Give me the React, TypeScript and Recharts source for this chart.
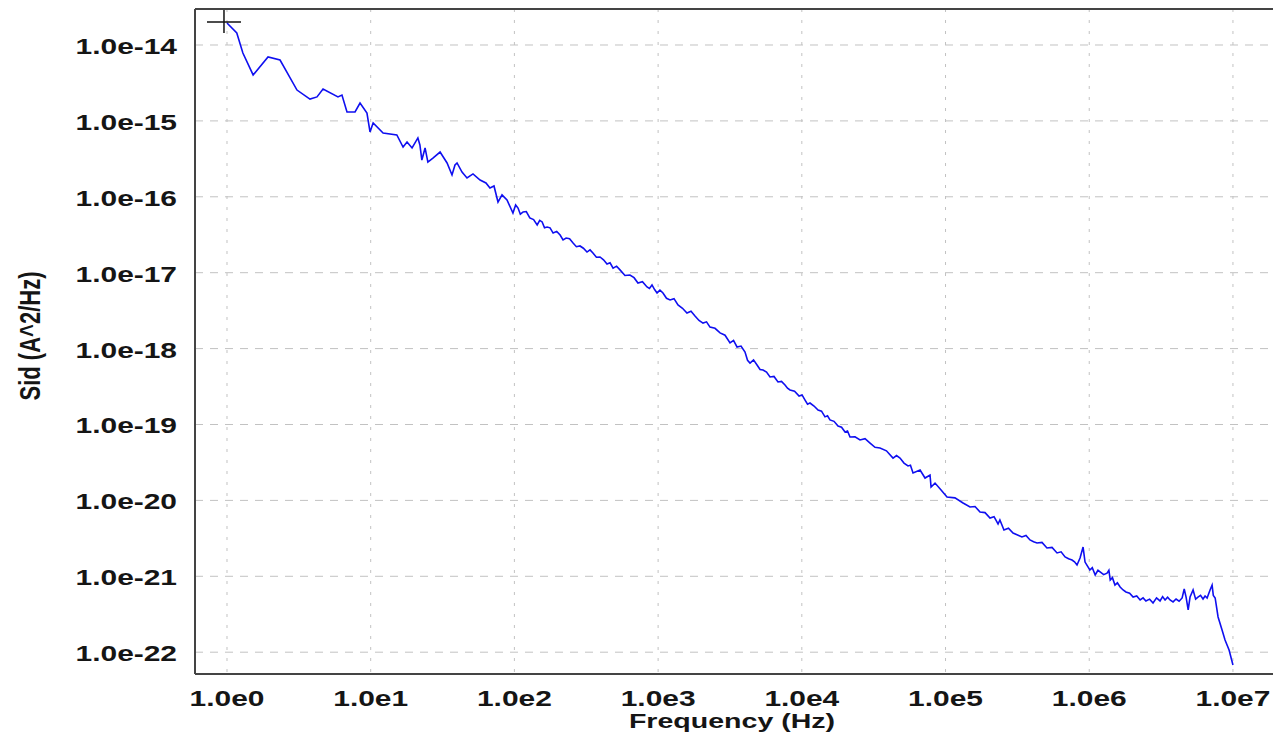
import React from "react"
import { LineChart, Line, XAxis, YAxis, CartesianGrid, ReferenceLine, ReferenceDot } from "recharts"

// noise spectrum (Hz, A^2/Hz)
const FREQ = [
	1, 1.17, 1.29, 1.52, 1.93, 2.34, 3.07, 3.78, 4.23, 4.66,
	5.92, 6.31, 6.84, 7.78, 8.43, 9.42, 9.89, 10.4, 12.2, 15.2,
	16.8, 17.9, 19.4, 21.3, 22.0, 22.7, 23.9, 25.0, 27.1, 30.4,
	34.0, 36.8, 38.6, 39.9, 43.2, 46.8, 51.5, 57.7, 63.4, 67.6,
	72.1, 76.9, 82.0, 88.8, 97.7, 102, 106, 110, 115, 121,
	128, 136, 144, 150, 156, 162, 169, 177, 186, 197,
	208, 218, 229, 242, 256, 270, 286, 302, 320, 336,
	352, 372, 394, 417, 441, 463, 486, 514, 543, 588,
	637, 680, 724, 778, 837, 870, 907, 945, 983, 1030,
	1081, 1144, 1211, 1290, 1375, 1478, 1588, 1694, 1806, 1926,
	2053, 2172, 2297, 2489, 2697, 2922, 3165, 3348, 3541, 3775,
	4025, 4190, 4361, 4613, 4879, 5120, 5373, 5681, 6007, 6403,
	6826, 7222, 7640, 7952, 8277, 8900, 9570, 10040, 10530, 10960,
	11400, 12160, 12970, 13710, 14500, 15090, 15700, 16750, 17860, 18900,
	19990, 20800, 21640, 23450, 25410, 27540, 29840, 32300, 35000, 38800,
	43120, 45600, 48230, 51400, 54810, 57000, 59400, 66500, 72000, 78000,
	79300, 84500, 93100, 102400, 116300, 132400, 148000, 160400, 173800, 188300,
	204000, 217500, 232000, 239000, 255000, 274000, 295000, 317000, 340000, 363000,
	387000, 410000, 433000, 469000, 508000, 551000, 597000, 637000, 679000, 718000,
	759000, 790000, 822000, 863000, 906000, 935000, 1.01e6, 1.05e6, 1.1e6, 1.15e6,
	1.19e6, 1.26e6, 1.33e6, 1.37e6, 1.4e6, 1.45e6, 1.51e6, 1.57e6, 1.64e6, 1.72e6,
	1.8e6, 1.91e6, 2.02e6, 2.14e6, 2.26e6, 2.37e6, 2.48e6, 2.63e6, 2.78e6, 2.94e6,
	3.11e6, 3.24e6, 3.37e6, 3.51e6, 3.65e6, 3.83e6, 4.02e6, 4.22e6, 4.43e6, 4.58e6,
	4.72e6, 4.88e6, 5.03e6, 5.28e6, 5.5e6, 5.71e6, 5.95e6, 6.19e6, 6.4e6, 6.61e6,
	6.93e6, 7.16e6, 7.3e6, 7.52e6, 7.88e6, 8.4e6, 8.81e6, 9.4e6, 1e7
]

const SID = [
	1.95e-14, 1.44e-14, 7.85e-15, 4.03e-15, 6.95e-15, 6.34e-15, 2.55e-15, 1.94e-15, 2.07e-15, 2.63e-15,
	2.07e-15, 2.19e-15, 1.31e-15, 1.31e-15, 1.72e-15, 1.27e-15, 7.14e-16, 9.38e-16, 6.93e-16, 6.52e-16,
	4.53e-16, 5.27e-16, 4.4e-16, 5.96e-16, 4.81e-16, 3.05e-16, 4.4e-16, 2.87e-16, 3.24e-16, 3.89e-16,
	2.79e-16, 1.94e-16, 2.62e-16, 2.79e-16, 2.12e-16, 1.77e-16, 2.0e-16, 1.66e-16, 1.52e-16, 1.31e-16,
	1.39e-16, 8.53e-17, 1.06e-16, 9.08e-17, 6.12e-17, 7.8e-17, 7.11e-17, 5.9e-17, 6.31e-17, 6.4e-17,
	5.26e-17, 5.0e-17, 4.25e-17, 4.9e-17, 4.66e-17, 3.9e-17, 4.0e-17, 3.9e-17, 3.33e-17, 3.5e-17,
	3.14e-17, 2.7e-17, 2.86e-17, 2.8e-17, 2.46e-17, 2.2e-17, 2.25e-17, 2.1e-17, 1.87e-17, 2.0e-17,
	1.82e-17, 1.6e-17, 1.61e-17, 1.48e-17, 1.3e-17, 1.35e-17, 1.15e-17, 1.22e-17, 1.09e-17, 9.2e-18,
	9.33e-18, 8.6e-18, 7.32e-18, 7.6e-18, 6.48e-18, 6.2e-18, 6.89e-18, 6.0e-18, 5.41e-18, 5.9e-18,
	5.41e-18, 4.6e-18, 4.37e-18, 4.55e-18, 3.75e-18, 3.4e-18, 2.94e-18, 3.1e-18, 2.69e-18, 2.35e-18,
	2.17e-18, 2.25e-18, 1.92e-18, 1.85e-18, 1.61e-18, 1.5e-18, 1.19e-18, 1.28e-18, 1.05e-18, 1.08e-18,
	9.0e-19, 7.0e-19, 6.45e-19, 7.1e-19, 6.08e-19, 5.3e-19, 5.22e-19, 4.9e-19, 4.23e-19, 4.3e-19,
	3.63e-19, 3.7e-19, 3.31e-19, 3.0e-19, 2.85e-19, 2.75e-19, 2.37e-19, 2.45e-19, 2.1e-19, 1.85e-19,
	1.92e-19, 1.75e-19, 1.55e-19, 1.5e-19, 1.26e-19, 1.3e-19, 1.15e-19, 1.1e-19, 9.55e-20, 9.2e-20,
	7.96e-20, 8.2e-20, 6.84e-20, 6.9e-20, 6.25e-20, 6.5e-20, 5.7e-20, 5.0e-20, 4.9e-20, 4.5e-20,
	3.61e-20, 3.9e-20, 3.61e-20, 3.1e-20, 2.84e-20, 2.9e-20, 2.3e-20, 2.51e-20, 1.97e-20, 2.16e-20,
	1.5e-20, 1.69e-20, 1.37e-20, 1.11e-20, 1.08e-20, 9.25e-21, 8.19e-21, 8.3e-21, 7.04e-21, 6.9e-21,
	5.86e-21, 6.1e-21, 4.89e-21, 5.52e-21, 4.07e-21, 4.3e-21, 3.72e-21, 3.5e-21, 3.3e-21, 3.45e-21,
	3.01e-21, 2.85e-21, 2.75e-21, 2.8e-21, 2.36e-21, 2.4e-21, 2.03e-21, 2.1e-21, 1.8e-21, 1.7e-21,
	1.64e-21, 1.55e-21, 1.41e-21, 1.74e-21, 2.43e-21, 1.54e-21, 1.21e-21, 1.3e-21, 1.04e-21, 1.2e-21,
	1.14e-21, 1.05e-21, 1.1e-21, 1.2e-21, 8.93e-22, 9.6e-22, 7.67e-22, 8.2e-22, 7.22e-22, 6.6e-22,
	6.21e-22, 6.0e-22, 5.33e-22, 5.5e-22, 4.87e-22, 5.2e-22, 4.73e-22, 5.0e-22, 4.45e-22, 5.2e-22,
	4.73e-22, 5.4e-22, 4.87e-22, 5.3e-22, 4.87e-22, 4.6e-22, 5.02e-22, 4.7e-22, 5.18e-22, 6.8e-22,
	5.33e-22, 3.6e-22, 5.33e-22, 6.61e-22, 5.0e-22, 5.33e-22, 5.6e-22, 5.02e-22, 5.5e-22, 5.18e-22,
	6.61e-22, 7.67e-22, 5.6e-22, 5.18e-22, 2.91e-22, 1.96e-22, 1.45e-22, 1.07e-22, 6.78e-23
]

const X_TICKS = [1, 10, 100, 1e3, 1e4, 1e5, 1e6, 1e7]
const Y_TICKS = [1e-14, 1e-15, 1e-16, 1e-17, 1e-18, 1e-19, 1e-20, 1e-21, 1e-22]

const X_DOMAIN = [0.599, 2.23e7]
const Y_DOMAIN = [5.16e-23, 2.98e-14]

const CURSOR = { f: 0.953, s: 2.01e-14 }

const data = FREQ.map((f, i) => ({ f, s: SID[i] }))

const FONT = "'Liberation Sans', Arial, sans-serif"
const STRETCH = 1.36
const PLOT_BOTTOM = 666

const expLabel = (v: number) => `1.0e${Math.round(Math.log10(v))}`

function XTick(props: any) {
	const { x, payload } = props
	return (
		<g transform={`translate(${x},${PLOT_BOTTOM + 32}) scale(${STRETCH},1)`}>
			<text textAnchor="middle" fontFamily={FONT} fontWeight="bold" fontSize={22} fill="#151515">
				{expLabel(payload.value)}
			</text>
		</g>
	)
}

function YTick(props: any) {
	const { y, payload } = props
	return (
		<g transform={`translate(169,${y + 9}) scale(${STRETCH},1)`}>
			<text textAnchor="end" fontFamily={FONT} fontWeight="bold" fontSize={22} fill="#151515">
				{expLabel(payload.value)}
			</text>
		</g>
	)
}

function Cross(props: any) {
	const { cx, cy } = props
	return (
		<g stroke="#111" strokeWidth={1.5}>
			<line x1={cx - 17} y1={cy} x2={cx + 17} y2={cy} />
			<line x1={cx} y1={cy - 12} x2={cx} y2={cy + 11} />
		</g>
	)
}

export default function App() {
	return (
		<div style={{ position: "absolute", left: 8, top: 8, width: 1265, height: 727, overflow: "hidden", background: "#fff" }}>
			<LineChart width={1275} height={727} data={data} margin={{ top: 1, right: 0, left: 0, bottom: 0 }}>
				<CartesianGrid vertical={false} stroke="#c2c2c2" strokeDasharray="8 7" />
				<CartesianGrid horizontal={false} stroke="#c2c2c2" strokeDasharray="3 8" />
				<XAxis
					type="number"
					dataKey="f"
					scale="log"
					domain={X_DOMAIN}
					ticks={X_TICKS}
					allowDataOverflow
					height={61}
					tick={<XTick />}
					tickLine={false}
					axisLine={{ stroke: "#444", strokeWidth: 2 }}
				/>
				<YAxis
					type="number"
					dataKey="s"
					scale="log"
					domain={Y_DOMAIN}
					ticks={Y_TICKS}
					allowDataOverflow
					width={187}
					tick={<YTick />}
					tickLine={false}
					axisLine={{ stroke: "#444", strokeWidth: 2 }}
				/>
				<ReferenceLine y={Y_DOMAIN[1]} stroke="#444" strokeWidth={2} />
				<Line
					type="linear"
					dataKey="s"
					stroke="#0f0ff0"
					strokeWidth={1.6}
					dot={false}
					isAnimationActive={false}
				/>
				<ReferenceDot x={CURSOR.f} y={CURSOR.s} r={0} shape={<Cross />} />
				<g transform={`translate(724,720) scale(${STRETCH},1)`}>
					<text textAnchor="middle" fontFamily={FONT} fontWeight="bold" fontSize={21} fill="#151515">
						Frequency (Hz)
					</text>
				</g>
				<g transform={`translate(32,328) scale(${STRETCH},1) rotate(-90)`}>
					<text textAnchor="middle" fontFamily={FONT} fontWeight="bold" fontSize={22} fill="#151515">
						Sid (A^2/Hz)
					</text>
				</g>
			</LineChart>
		</div>
	)
}
